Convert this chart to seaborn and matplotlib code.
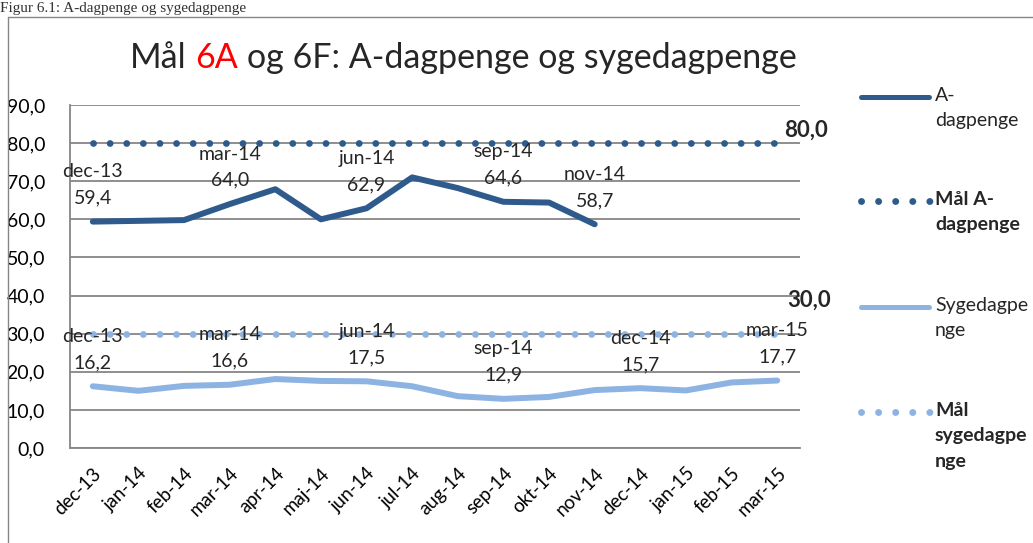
import matplotlib
matplotlib.use("Agg")
import matplotlib.pyplot as plt
from matplotlib.lines import Line2D
import pandas as pd
import seaborn as sns

# ------------------------------------------------------------------------------
# Data
# ------------------------------------------------------------------------------
MONTHS = ["dec-13", "jan-14", "feb-14", "mar-14", "apr-14", "maj-14", "jun-14",
          "jul-14", "aug-14", "sep-14", "okt-14", "nov-14", "dec-14", "jan-15",
          "feb-15", "mar-15"]
A_DAGPENGE = [59.4, 59.6, 59.8, 64.0, 67.9, 60.0, 62.9, 71.0, 68.2, 64.6, 64.4,
              58.7]
SYGEDAGPENGE = [16.2, 15.0, 16.3, 16.6, 18.1, 17.6, 17.5, 16.2, 13.6, 12.9, 13.4,
                15.2, 15.7, 15.1, 17.2, 17.7]
MAAL_A = [80.0, 80.0, 80.0, 80.0, 80.0, 80.0, 80.0, 80.0, 80.0, 80.0, 80.0,
          80.0, 80.0, 80.0, 80.0, 80.0]
MAAL_SYGE = [30.0, 30.0, 30.0, 30.0, 30.0, 30.0, 30.0, 30.0, 30.0, 30.0, 30.0,
             30.0, 30.0, 30.0, 30.0, 30.0]
A_LABEL_MONTHS = ["dec-13", "mar-14", "jun-14", "sep-14", "nov-14"]
SYGE_LABEL_MONTHS = ["dec-13", "mar-14", "jun-14", "sep-14", "dec-14", "mar-15"]
Y_TICKS = [0, 10, 20, 30, 40, 50, 60, 70, 80, 90]

LEGEND_LABELS = ["A-\ndagpenge", "Mål A-\ndagpenge", "Sygedagpe\nnge",
                 "Mål\nsygedagpe\nnge"]

# ------------------------------------------------------------------------------
# Style
# ------------------------------------------------------------------------------
DARK = "#2F5B8C"
LIGHT = "#8DB3E2"
GRID = "#868686"
FONT = "Lato"
DOTS = (0, (0.01, 2.43))
W, H = 1033, 543
LABEL_FS = 14

sns.set_theme(style="white")
plt.rcParams["font.family"] = [FONT, "DejaVu Sans"]


def fmt(v):
  return ("%.1f" % v).replace(".", ",")


fig = plt.figure(figsize=(W / 100, H / 100), dpi=100)
ax = fig.add_axes([70 / W, 1 - 448 / H, 730 / W, 343 / H])

df_a = pd.DataFrame({"month": MONTHS[:len(A_DAGPENGE)], "value": A_DAGPENGE})
df_s = pd.DataFrame({"month": MONTHS, "value": SYGEDAGPENGE})
df_ma = pd.DataFrame({"month": MONTHS, "value": MAAL_A})
df_ms = pd.DataFrame({"month": MONTHS, "value": MAAL_SYGE})

sns.lineplot(data=df_ma, x="month", y="value", sort=False, ax=ax, color=DARK,
             linewidth=4.9, linestyle=DOTS, dash_capstyle="round", zorder=3)
sns.lineplot(data=df_ms, x="month", y="value", sort=False, ax=ax, color=LIGHT,
             linewidth=4.9, linestyle=DOTS, dash_capstyle="round", zorder=3)
sns.lineplot(data=df_a, x="month", y="value", sort=False, ax=ax, color=DARK,
             linewidth=4.3, solid_capstyle="round", zorder=4)
sns.lineplot(data=df_s, x="month", y="value", sort=False, ax=ax, color=LIGHT,
             linewidth=4.3, solid_capstyle="round", zorder=4)

# data labels
for months, values in ((A_LABEL_MONTHS, A_DAGPENGE),
                       (SYGE_LABEL_MONTHS, SYGEDAGPENGE)):
  for m in months:
    i = MONTHS.index(m)
    ax.annotate("%s\n%s" % (m, fmt(values[i])), xy=(i, values[i]),
                xytext=(0, 11), textcoords="offset points", ha="center",
                va="bottom", fontsize=LABEL_FS, linespacing=1.65, zorder=5)

ax.annotate(fmt(MAAL_A[-1]), xy=(len(MONTHS) - 1, MAAL_A[-1]),
            xytext=(21, 9), textcoords="offset points", ha="center",
            va="center", fontsize=16, fontweight="bold")
ax.annotate(fmt(MAAL_SYGE[-1]), xy=(len(MONTHS) - 1, MAAL_SYGE[-1]),
            xytext=(23, 24), textcoords="offset points", ha="center",
            va="center", fontsize=16, fontweight="bold")

ax.set_xlim(-0.5, len(MONTHS) - 0.5)
ax.set_ylim(0, 90)
ax.set_yticks(Y_TICKS)
ax.set_yticklabels([fmt(v) for v in Y_TICKS], fontsize=LABEL_FS)
ax.set_xticks(range(len(MONTHS)))
ax.set_xticklabels(MONTHS, rotation=45, ha="right", rotation_mode="anchor",
                   fontsize=13.5)
ax.tick_params(axis="both", length=0, pad=12, colors="black")
ax.tick_params(axis="y", pad=18)
ax.set_xlabel("")
ax.set_ylabel("")
ax.grid(axis="y", color=GRID, linewidth=1.3)
ax.set_axisbelow(True)
for side in ("top", "right"):
  ax.spines[side].set_visible(False)
for side in ("left", "bottom"):
  ax.spines[side].set_color(GRID)
  ax.spines[side].set_linewidth(1.3)

# title with red "6A"
TITLE_FS = 24.5
gap = 0.26 * TITLE_FS
t1 = fig.text(130 / W, 1 - 68 / H, "Mål", fontsize=TITLE_FS, va="baseline",
              ha="left")
t2 = ax.annotate("6A", xy=(1, 0), xycoords=t1, xytext=(gap, 0),
                 textcoords="offset points", va="bottom", ha="left",
                 fontsize=TITLE_FS, color="#FF0000", annotation_clip=False)
t3 = ax.annotate("og 6F: A-dagpenge og sygedagpenge", xy=(1, 0), xycoords=t2,
                 xytext=(gap, 0), textcoords="offset points", va="bottom",
                 ha="left", fontsize=TITLE_FS, annotation_clip=False)
fig.canvas.draw()
r = fig.canvas.get_renderer()
bb1 = t1.get_window_extent(r)
bb3 = t3.get_window_extent(r)
total = bb3.x1 - bb1.x0
t1.set_x((463.5 - total / 2) / W)

# caption above the frame
fig.text(0.0, 1 - 12 / H, "Figur 6.1: A-dagpenge og sygedagpenge",
         family="Liberation Serif", fontsize=11, va="baseline", ha="left",
         color="#333333")

# chart frame
fig.add_artist(Line2D([8 / W, 8 / W], [0, 1 - 17 / H], transform=fig.transFigure,
                      color=GRID, linewidth=1))
fig.add_artist(Line2D([8 / W, 1], [1 - 17 / H, 1 - 17 / H],
                      transform=fig.transFigure, color=GRID, linewidth=1))

# legend, handle level with the first line of each label
legend_y = [97, 201, 307, 412]
legend_styles = [(DARK, "-"), (DARK, DOTS), (LIGHT, "-"), (LIGHT, DOTS)]
legend_bold = [False, True, False, True]
for y, (c, ls), bold, lab in zip(legend_y, legend_styles, legend_bold,
                                 LEGEND_LABELS):
  yf = 1 - y / H
  if ls == "-":
    ln = Line2D([861 / W, 929 / W], [yf, yf], transform=fig.transFigure,
                color=c, linewidth=3.6, solid_capstyle="round")
  else:
    ln = Line2D([861 / W, 931 / W], [yf, yf], transform=fig.transFigure,
                color=c, linewidth=5, linestyle=(0, (0.01, 2.45)),
                dash_capstyle="round")
  fig.add_artist(ln)
  fig.text(935 / W, 1 - (y - 10) / H, lab, fontsize=14, va="top", ha="left",
           linespacing=1.6, fontweight="bold" if bold else "normal")

fig.savefig("out.png", dpi=100)
